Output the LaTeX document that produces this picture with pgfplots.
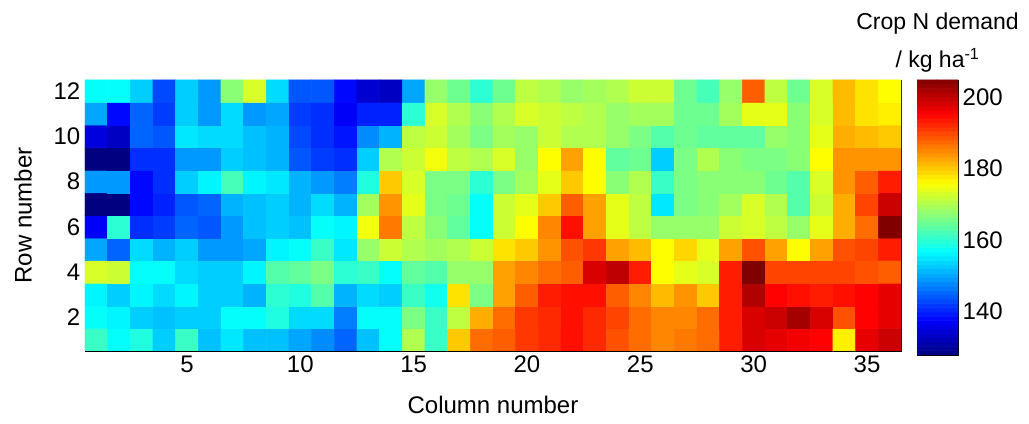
\documentclass[border=0pt]{standalone}
\usepackage{pgfplots}
\pgfplotsset{compat=1.18}
\usepackage{fontspec}
\setmainfont{Liberation Sans}
\pgfplotsset{/pgf/number format/assume math mode=true}
\newcommand{\lbl}{\fontsize{18}{20}\selectfont}
\newcommand{\ttl}{\fontsize{17.25}{20}\selectfont}

\begin{document}
\begin{tikzpicture}
\path[use as bounding box] (-63.75pt,-54.75pt) rectangle (708pt,263.25pt);
\begin{axis}[
  at={(0,0)}, anchor=south west,
  scale only axis, width=612pt, height=203.25pt,
  xmin=0.5, xmax=36.5, ymin=0.5, ymax=12.5,
  xtick={5,10,...,35}, ytick={2,4,...,12},
  tick align=inside, tick pos=both, major tick length=6pt,
  ticklabel style={font=\lbl},
  xlabel={Column number}, ylabel={Row number},
  label style={font=\lbl},
  xlabel style={at={(axis description cs:0.5,-0.199)}, anchor=center},
  ylabel style={at={(axis description cs:-0.076,0.5)}, anchor=center},
  colormap/jet,
  point meta min=127.9, point meta max=204.7,
]
\addplot[matrix plot*, mesh/cols=36, point meta=explicit] coordinates {
(1,1) [161] (2,1) [157] (3,1) [159] (4,1) [153] (5,1) [161] (6,1) [152] (7,1) [155] (8,1) [152] (9,1) [152] (10,1) [150] (11,1) [148] (12,1) [145]
(13,1) [152] (14,1) [157] (15,1) [170] (16,1) [161] (17,1) [180] (18,1) [187] (19,1) [188] (20,1) [191] (21,1) [192] (22,1) [194] (23,1) [192] (24,1) [189]
(25,1) [187] (26,1) [185] (27,1) [186] (28,1) [187] (29,1) [193] (30,1) [198] (31,1) [197] (32,1) [196] (33,1) [195] (34,1) [177] (35,1) [197] (36,1) [199]
(1,2) [157] (2,2) [156] (3,2) [153] (4,2) [152] (5,2) [153] (6,2) [153] (7,2) [157] (8,2) [157] (9,2) [159] (10,2) [154] (11,2) [154] (12,2) [147]
(13,2) [157] (14,2) [157] (15,2) [166] (16,2) [161] (17,2) [171] (18,2) [182] (19,2) [187] (20,2) [191] (21,2) [192] (22,2) [194] (23,2) [192] (24,2) [190]
(25,2) [187] (26,2) [185] (27,2) [185] (28,2) [187] (29,2) [193] (30,2) [198] (31,2) [199] (32,2) [202] (33,2) [198] (34,2) [189] (35,2) [195] (36,2) [197]
(1,3) [156] (2,3) [153] (3,3) [156] (4,3) [154] (5,3) [156] (6,3) [153] (7,3) [153] (8,3) [151] (9,3) [160] (10,3) [159] (11,3) [163] (12,3) [151]
(13,3) [154] (14,3) [153] (15,3) [161] (16,3) [158] (17,3) [178] (18,3) [166] (19,3) [183] (20,3) [188] (21,3) [193] (22,3) [194] (23,3) [194] (24,3) [188]
(25,3) [185] (26,3) [181] (27,3) [184] (28,3) [180] (29,3) [193] (30,3) [201] (31,3) [195] (32,3) [194] (33,3) [193] (34,3) [194] (35,3) [195] (36,3) [197]
(1,4) [173] (2,4) [172] (3,4) [157] (4,4) [157] (5,4) [154] (6,4) [153] (7,4) [153] (8,4) [156] (9,4) [163] (10,4) [164] (11,4) [166] (12,4) [160]
(13,4) [161] (14,4) [157] (15,4) [164] (16,4) [163] (17,4) [168] (18,4) [168] (19,4) [183] (20,4) [185] (21,4) [187] (22,4) [188] (23,4) [198] (24,4) [200]
(25,4) [193] (26,4) [176] (27,4) [174] (28,4) [173] (29,4) [193] (30,4) [205] (31,4) [190] (32,4) [190] (33,4) [190] (34,4) [190] (35,4) [189] (36,4) [188]
(1,5) [150] (2,5) [145] (3,5) [154] (4,5) [151] (5,5) [153] (6,5) [149] (7,5) [149] (8,5) [150] (9,5) [156] (10,5) [157] (11,5) [161] (12,5) [155]
(13,5) [168] (14,5) [172] (15,5) [170] (16,5) [169] (17,5) [170] (18,5) [172] (19,5) [178] (20,5) [180] (21,5) [184] (22,5) [189] (23,5) [191] (24,5) [183]
(25,5) [181] (26,5) [176] (27,5) [179] (28,5) [174] (29,5) [183] (30,5) [189] (31,5) [183] (32,5) [176] (33,5) [183] (34,5) [189] (35,5) [190] (36,5) [193]
(1,6) [137] (2,6) [160] (3,6) [141] (4,6) [142] (5,6) [145] (6,6) [144] (7,6) [149] (8,6) [152] (9,6) [153] (10,6) [152] (11,6) [157] (12,6) [156]
(13,6) [175] (14,6) [186] (15,6) [171] (16,6) [167] (17,6) [164] (18,6) [157] (19,6) [172] (20,6) [176] (21,6) [185] (22,6) [194] (23,6) [183] (24,6) [174]
(25,6) [171] (26,6) [168] (27,6) [168] (28,6) [168] (29,6) [172] (30,6) [173] (31,6) [171] (32,6) [168] (33,6) [174] (34,6) [182] (35,6) [187] (36,6) [205]
(1,7) [128] (2,7) [128] (3,7) [138] (4,7) [140] (5,7) [144] (6,7) [145] (7,7) [151] (8,7) [152] (9,7) [153] (10,7) [151] (11,7) [154] (12,7) [151]
(13,7) [169] (14,7) [184] (15,7) [174] (16,7) [166] (17,7) [165] (18,7) [157] (19,7) [172] (20,7) [174] (21,7) [180] (22,7) [188] (23,7) [183] (24,7) [174]
(25,7) [171] (26,7) [155] (27,7) [166] (28,7) [167] (29,7) [169] (30,7) [173] (31,7) [170] (32,7) [163] (33,7) [172] (34,7) [182] (35,7) [190] (36,7) [199]
(1,8) [149] (2,8) [149] (3,8) [138] (4,8) [141] (5,8) [153] (6,8) [156] (7,8) [162] (8,8) [156] (9,8) [155] (10,8) [151] (11,8) [149] (12,8) [147]
(13,8) [159] (14,8) [180] (15,8) [173] (16,8) [166] (17,8) [166] (18,8) [160] (19,8) [166] (20,8) [169] (21,8) [174] (22,8) [180] (23,8) [176] (24,8) [167]
(25,8) [170] (26,8) [161] (27,8) [166] (28,8) [167] (29,8) [167] (30,8) [167] (31,8) [165] (32,8) [163] (33,8) [173] (34,8) [184] (35,8) [188] (36,8) [193]
(1,9) [128] (2,9) [128] (3,9) [141] (4,9) [141] (5,9) [149] (6,9) [149] (7,9) [153] (8,9) [152] (9,9) [151] (10,9) [144] (11,9) [142] (12,9) [141]
(13,9) [153] (14,9) [170] (15,9) [172] (16,9) [175] (17,9) [171] (18,9) [170] (19,9) [173] (20,9) [168] (21,9) [176] (22,9) [183] (23,9) [176] (24,9) [164]
(25,9) [165] (26,9) [153] (27,9) [166] (28,9) [170] (29,9) [167] (30,9) [166] (31,9) [166] (32,9) [167] (33,9) [176] (34,9) [184] (35,9) [184] (36,9) [184]
(1,10) [135] (2,10) [133] (3,10) [145] (4,10) [144] (5,10) [155] (6,10) [154] (7,10) [154] (8,10) [152] (9,10) [151] (10,10) [143] (11,10) [141] (12,10) [139]
(13,10) [148] (14,10) [151] (15,10) [171] (16,10) [172] (17,10) [169] (18,10) [166] (19,10) [169] (20,10) [168] (21,10) [172] (22,10) [170] (23,10) [170] (24,10) [168]
(25,10) [166] (26,10) [163] (27,10) [165] (28,10) [164] (29,10) [164] (30,10) [164] (31,10) [168] (32,10) [167] (33,10) [174] (34,10) [182] (35,10) [181] (36,10) [180]
(1,11) [150] (2,11) [138] (3,11) [145] (4,11) [142] (5,11) [153] (6,11) [149] (7,11) [154] (8,11) [149] (9,11) [150] (10,11) [142] (11,11) [141] (12,11) [137]
(13,11) [140] (14,11) [140] (15,11) [160] (16,11) [173] (17,11) [170] (18,11) [167] (19,11) [170] (20,11) [173] (21,11) [172] (22,11) [171] (23,11) [170] (24,11) [168]
(25,11) [169] (26,11) [169] (27,11) [165] (28,11) [165] (29,11) [169] (30,11) [174] (31,11) [174] (32,11) [167] (33,11) [173] (34,11) [181] (35,11) [178] (36,11) [177]
(1,12) [157] (2,12) [157] (3,12) [153] (4,12) [143] (5,12) [153] (6,12) [149] (7,12) [167] (8,12) [173] (9,12) [154] (10,12) [144] (11,12) [144] (12,12) [138]
(13,12) [134] (14,12) [133] (15,12) [150] (16,12) [168] (17,12) [165] (18,12) [160] (19,12) [165] (20,12) [171] (21,12) [170] (22,12) [168] (23,12) [169] (24,12) [170]
(25,12) [172] (26,12) [172] (27,12) [165] (28,12) [162] (29,12) [168] (30,12) [188] (31,12) [171] (32,12) [165] (33,12) [173] (34,12) [181] (35,12) [178] (36,12) [176]
};
\end{axis}
% colour scale: 64 bands of the jet map
\begin{axis}[
  at={(624pt,203.25pt)}, anchor=north west,
  scale only axis, width=30.75pt, height=206.25pt,
  xmin=0, xmax=1, ymin=127.9, ymax=204.7,
  xtick=\empty, ytick={140,160,180,200},
  tick align=inside, ytick pos=both, yticklabel pos=right, major tick length=4pt,
  yticklabel style={font=\lbl},
  colormap/jet,
  point meta min=127.9, point meta max=204.7,
]
\addplot[matrix plot*, mesh/cols=2, point meta=y] coordinates {
(0.25,128.5) (0.75,128.5) (0.25,129.7) (0.75,129.7) (0.25,130.9) (0.75,130.9) (0.25,132.1) (0.75,132.1)
(0.25,133.3) (0.75,133.3) (0.25,134.5) (0.75,134.5) (0.25,135.7) (0.75,135.7) (0.25,136.9) (0.75,136.9)
(0.25,138.1) (0.75,138.1) (0.25,139.3) (0.75,139.3) (0.25,140.5) (0.75,140.5) (0.25,141.7) (0.75,141.7)
(0.25,142.9) (0.75,142.9) (0.25,144.1) (0.75,144.1) (0.25,145.3) (0.75,145.3) (0.25,146.5) (0.75,146.5)
(0.25,147.7) (0.75,147.7) (0.25,148.9) (0.75,148.9) (0.25,150.1) (0.75,150.1) (0.25,151.3) (0.75,151.3)
(0.25,152.5) (0.75,152.5) (0.25,153.7) (0.75,153.7) (0.25,154.9) (0.75,154.9) (0.25,156.1) (0.75,156.1)
(0.25,157.3) (0.75,157.3) (0.25,158.5) (0.75,158.5) (0.25,159.7) (0.75,159.7) (0.25,160.9) (0.75,160.9)
(0.25,162.1) (0.75,162.1) (0.25,163.3) (0.75,163.3) (0.25,164.5) (0.75,164.5) (0.25,165.7) (0.75,165.7)
(0.25,166.9) (0.75,166.9) (0.25,168.1) (0.75,168.1) (0.25,169.3) (0.75,169.3) (0.25,170.5) (0.75,170.5)
(0.25,171.7) (0.75,171.7) (0.25,172.9) (0.75,172.9) (0.25,174.1) (0.75,174.1) (0.25,175.3) (0.75,175.3)
(0.25,176.5) (0.75,176.5) (0.25,177.7) (0.75,177.7) (0.25,178.9) (0.75,178.9) (0.25,180.1) (0.75,180.1)
(0.25,181.3) (0.75,181.3) (0.25,182.5) (0.75,182.5) (0.25,183.7) (0.75,183.7) (0.25,184.9) (0.75,184.9)
(0.25,186.1) (0.75,186.1) (0.25,187.3) (0.75,187.3) (0.25,188.5) (0.75,188.5) (0.25,189.7) (0.75,189.7)
(0.25,190.9) (0.75,190.9) (0.25,192.1) (0.75,192.1) (0.25,193.3) (0.75,193.3) (0.25,194.5) (0.75,194.5)
(0.25,195.7) (0.75,195.7) (0.25,196.9) (0.75,196.9) (0.25,198.1) (0.75,198.1) (0.25,199.3) (0.75,199.3)
(0.25,200.5) (0.75,200.5) (0.25,201.7) (0.75,201.7) (0.25,202.9) (0.75,202.9) (0.25,204.1) (0.75,204.1)
};
\end{axis}
\node[anchor=base, font=\ttl] at (639.4pt,240.75pt) {Crop N demand};
\node[anchor=base, font=\ttl] at (639.4pt,212.25pt) {/ kg ha\textsuperscript{-1}};
\end{tikzpicture}
\end{document}
